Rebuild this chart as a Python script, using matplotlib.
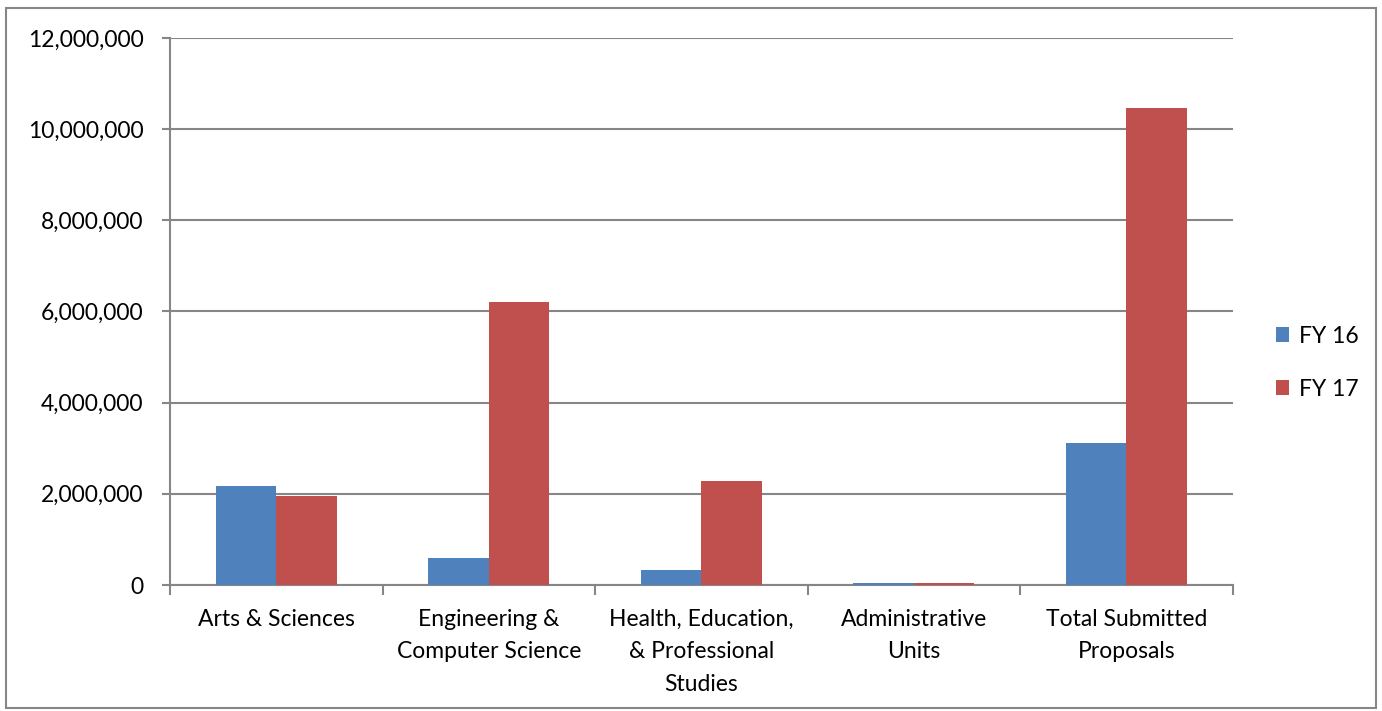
import matplotlib

matplotlib.use("Agg")
import matplotlib.pyplot as plt
import numpy as np
from matplotlib.patches import Rectangle
from matplotlib.ticker import FuncFormatter

categories = [
    "Arts & Sciences",
    "Engineering &\nComputer Science",
    "Health, Education,\n& Professional\nStudies",
    "Administrative\nUnits",
    "Total Submitted\nProposals",
]
fy16 = [2170000, 590000, 330000, 40000, 3110000]
fy17 = [1960000, 6200000, 2280000, 40000, 10470000]
series_labels = ["FY 16", "FY 17"]

plt.rcParams["font.family"] = ["Lato", "DejaVu Sans"]
GRAY = "#868686"
FS = 16.5

fig = plt.figure(figsize=(13.82, 7.11), dpi=100)
ax = fig.add_axes([0.123, 0.1772, 0.769, 0.7694])

x = np.arange(len(categories))
w = 0.285
ax.bar(x - w / 2, fy16, w, color="#4F81BD", label=series_labels[0], zorder=3)
ax.bar(x + w / 2, fy17, w, color="#C0504D", label=series_labels[1], zorder=3)

ax.set_xlim(-0.5, len(categories) - 0.5)
ax.set_ylim(0, 12000000)
ax.set_yticks(np.arange(0, 12000001, 2000000))
ax.yaxis.set_major_formatter(FuncFormatter(lambda v, _: f"{int(v):,}"))
ax.grid(axis="y", color=GRAY, linewidth=1.5, zorder=0)

ax.set_xticks(x)
ax.set_xticklabels(categories, fontsize=FS, linespacing=1.68)
ax.set_xticks(np.arange(-0.5, len(categories)), minor=True)
ax.tick_params(axis="x", which="major", length=0, pad=17)
ax.tick_params(axis="x", which="minor", length=7, width=1.5, color=GRAY)
ax.tick_params(axis="y", length=6, width=1.5, color=GRAY, labelsize=FS, pad=13)

for side in ("top", "right"):
    ax.spines[side].set_visible(False)
for side in ("left", "bottom"):
    ax.spines[side].set_color(GRAY)
    ax.spines[side].set_linewidth(1.5)

fig.legend(
    loc="center left",
    bbox_to_anchor=(0.923, 0.49),
    frameon=False,
    fontsize=FS,
    handlelength=0.6,
    handleheight=0.6,
    handletextpad=0.4,
    labelspacing=1.4,
    borderaxespad=0,
    borderpad=0,
)

fig.patches.append(
    Rectangle((0.004, 0.004), 0.992, 0.985, transform=fig.transFigure,
              fill=False, edgecolor=GRAY, linewidth=1.5)
)

fig.savefig("out.png", dpi=100)
